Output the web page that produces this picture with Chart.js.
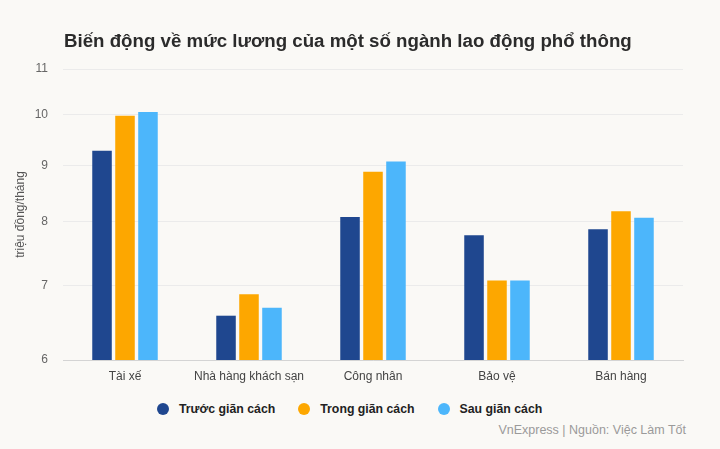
<!DOCTYPE html>
<html>
<head>
<meta charset="utf-8">
<script src="https://cdn.jsdelivr.net/npm/chart.js@4.4.1/dist/chart.umd.min.js"></script>
<style>
  body { margin: 0; background: #faf9f6; font-family: "Liberation Sans", Arial, sans-serif; }
  #page { position: relative; width: 720px; height: 449px; overflow: hidden; }
  #title { position: absolute; left: 64px; top: 30px; font-size: 18.7px; font-weight: bold; color: #2b2b2b; white-space: nowrap; }
  #chartBox { position: absolute; left: 0; top: 0; width: 720px; height: 392px; }
  #legend { position: absolute; left: 157px; top: 402px; display: flex; align-items: center; }
  .item { display: flex; align-items: center; margin-right: 23px; font-size: 12.3px; font-weight: bold; color: #222; }
  .dot { width: 12px; height: 12px; border-radius: 50%; margin-right: 10px; }
  #source { position: absolute; right: 34px; top: 423px; font-size: 12.5px; color: #9a9a9a; white-space: nowrap; }
</style>
</head>
<body>
<div id="page">
  <div id="chartBox"><canvas id="chart" width="720" height="392"></canvas></div>
  <div id="title">Biến động về mức lương của một số ngành lao động phổ thông</div>
  <div id="legend"></div>
  <div id="source">VnExpress | Nguồn: Việc Làm Tốt</div>
</div>
<script>
const categories = ['Tài xế', 'Nhà hàng khách sạn', 'Công nhân', 'Bảo vệ', 'Bán hàng'];
const truocGianCach = [9.28, 6.58, 8.08, 7.78, 7.88];
const trongGianCach = [9.98, 6.88, 8.88, 7.08, 8.18];
const sauGianCach = [10.06, 6.69, 9.07, 7.08, 8.07];
const yTicks = [6, 7, 8, 9, 10, 11];

const seriesNames = ['Trước giãn cách', 'Trong giãn cách', 'Sau giãn cách'];
const seriesColors = ['#1f478f', '#fda700', '#4cb6fb'];
const seriesData = [truocGianCach, trongGianCach, sauGianCach];

const datasets = seriesData.map((d, i) => ({
    label: seriesNames[i],
    data: d,
    backgroundColor: seriesColors[i],
    categoryPercentage: 0.556,
    barPercentage: 0.85
}));

new Chart(document.getElementById('chart').getContext('2d'), {
    type: 'bar',
    data: { labels: categories, datasets: datasets },
    options: {
        responsive: false,
        animation: false,
        layout: { padding: { top: 69, left: 0, right: 37, bottom: 0 } },
        plugins: {
            legend: { display: false },
            tooltip: { enabled: false }
        },
        scales: {
            x: {
                grid: { display: false, drawTicks: false },
                border: { color: '#d4d4d4' },
                ticks: { color: '#444', padding: 9, font: { family: 'Liberation Sans', size: 12 } },
                afterFit(scale) { scale.height = 32; }
            },
            y: {
                type: 'logarithmic',
                min: 6,
                max: 11,
                grid: { color: '#ebebeb', drawTicks: false },
                border: { display: false },
                ticks: {
                    color: '#666',
                    padding: 15,
                    font: { family: 'Liberation Sans', size: 12 },
                    callback: (v) => v
                },
                afterBuildTicks(scale) {
                    scale.ticks = yTicks.map(v => ({ value: v }));
                },
                title: {
                    display: true,
                    text: 'triệu đồng/tháng',
                    color: '#555',
                    padding: { top: 13, bottom: 0 },
                    font: { family: 'Liberation Sans', size: 12 }
                },
                afterFit(scale) { scale.width = 63; }
            }
        }
    }
});

const legend = document.getElementById('legend');
seriesNames.forEach((name, i) => {
    const item = document.createElement('div');
    item.className = 'item';
    item.innerHTML = '<span class="dot" style="background:' + seriesColors[i] + '"></span>' + name;
    legend.appendChild(item);
});
</script>
</body>
</html>
